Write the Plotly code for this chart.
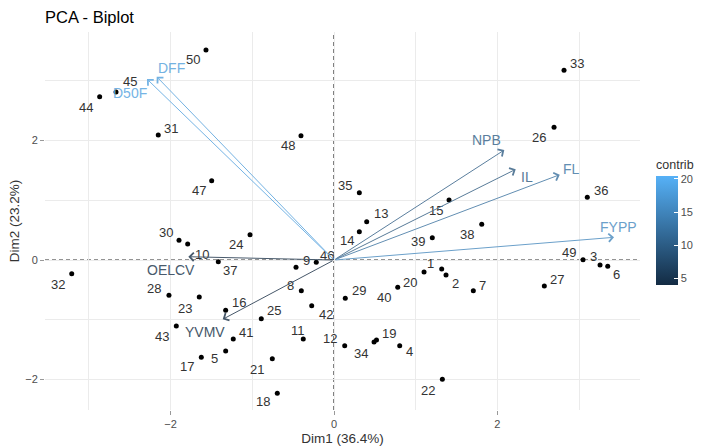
import plotly.graph_objects as go
from plotly.colors import sample_colorscale, unlabel_rgb

# ---- data ----
ind_labels = [str(i) for i in range(1, 51)]
dim1 = [1.318, 1.371, 3.256, 0.804, -1.326, 3.350, 1.705, -0.400, -0.465, -1.791,
        -0.376, 0.131, 0.400, 0.310, 1.408, -1.326, -1.624, -0.694, 0.520, 1.102,
        -0.755, 1.326, -1.649, -1.028, -0.890, 2.693, 2.574, -2.020, 0.138, -1.897,
        -2.151, -3.210, 2.815, 0.490, 0.310, 3.100, -1.416, 1.808, 1.203, 0.780,
        -1.233, -0.273, -1.930, -2.868, -2.668, -0.217, -1.497, -0.404, 3.048, -1.567]
dim2 = [-0.151, -0.251, -0.084, -1.434, -1.523, -0.105, -0.514, -0.514, -0.122, 0.268,
        -1.322, -1.434, 0.641, 0.474, 1.004, -0.842, -1.628, -2.231, -1.339, -0.201,
        -1.652, -1.997, -0.619, 0.423, -0.982, 2.221, -0.435, -0.591, -0.641, 0.330,
        2.092, -0.229, 3.175, -1.372, 1.126, 1.049, -0.028, 0.597, 0.373, -0.457,
        -1.322, -0.765, -1.105, 2.733, 2.812, -0.038, 1.327, 2.080, 0.005, 3.515]

var_names = ["DFF", "D50F", "NPB", "IL", "FL", "FYPP", "OELCV", "YVMV"]
var_dim1 = [-2.170, -2.289, 2.084, 2.224, 2.763, 3.427, -1.783, -1.362]
var_dim2 = [3.068, 3.029, 1.841, 1.518, 1.428, 0.380, 0.055, -0.992]
var_contrib = [19.9, 20.3, 10.8, 10.2, 13.6, 16.8, 4.5, 4.0]

x_ticks = [-2, 0, 2]
y_ticks = [-2, 0, 2]
cbar_ticks = [5, 10, 15, 20]

# ---- label placement (pixel offsets, dx right / dy down), styling only ----
ind_offsets = [(-11, -6), (9, 8), (-7, -9), (10, 6), (-11, 7), (9, 8), (9, -5), (-11, -5),
               (10, -7), (14, 10), (-5, -9), (-15, -7), (14, -8), (-12, 9), (-13, 10),
               (13, -8), (-14, 9), (-14, 8), (13, -7), (-14, 10), (-15, 11), (-14, 11),
               (-14, 11), (-14, 10), (13, -8), (-15, 10), (13, -7), (-15, -7), (14, -8),
               (-13, -8), (13, -7), (-14, 11), (13, -7), (-13, 11), (-14, -7), (14, -7),
               (12, 9), (-15, 10), (-14, 4), (-14, 10), (13, -7), (14, 9), (-14, 10),
               (-14, 11), (14, -10), (11, -7), (-13, 10), (-13, 10), (-14, -7), (-13, 10)]
var_offsets = [(15, -9), (-17, 14), (-18, -10), (11, 8), (12, -6), (4, -10), (-17, 13), (-18, 13)]

FONT = "Liberation Sans, Arial, sans-serif"
cmin, cmax = 3.95, 20.45
cscale = [[0, "#132B43"], [1, "#56B1F7"]]
raw_colors = sample_colorscale(cscale, [(c - cmin) / (cmax - cmin) for c in var_contrib])


def soften(col, k=0.3, g=192):
    r, gg, b = unlabel_rgb(col)
    return "rgb(%d,%d,%d)" % (r * (1 - k) + g * k, gg * (1 - k) + g * k, b * (1 - k) + g * k)


var_colors = [soften(c) for c in raw_colors]

fig = go.Figure()

# individuals
fig.add_trace(go.Scatter(x=dim1, y=dim2, mode="markers",
                         marker=dict(color="black", size=5),
                         hoverinfo="text", text=ind_labels, showlegend=False))

# invisible carrier for the colour bar
fig.add_trace(go.Scatter(
    x=var_dim1, y=var_dim2, mode="markers", showlegend=False, hoverinfo="skip",
    marker=dict(size=4, opacity=0, color=var_contrib, colorscale=cscale, cmin=cmin, cmax=cmax,
                showscale=True,
                colorbar=dict(
                    title=dict(text="contrib", side="top",
                               font=dict(size=12.5, color="#333333", family=FONT)),
                    thickness=22, len=128, lenmode="pixels",
                    x=1.027, xanchor="left", y=(410 - 285) / 378, yanchor="bottom",
                    xpad=0, ypad=0, outlinewidth=0,
                    tickvals=cbar_ticks, ticks="inside", ticklen=4, tickcolor="white",
                    tickfont=dict(size=11, color="#4d4d4d", family=FONT)))))

annotations = []
for i, lab in enumerate(ind_labels):
    dx, dy = ind_offsets[i]
    annotations.append(dict(x=dim1[i], y=dim2[i], xref="x", yref="y", text=lab,
                            showarrow=False, xshift=dx, yshift=-dy,
                            font=dict(size=13, color="#333333", family=FONT)))

for i, name in enumerate(var_names):
    annotations.append(dict(x=var_dim1[i], y=var_dim2[i], ax=0, ay=0,
                            xref="x", yref="y", axref="x", ayref="y",
                            text="", showarrow=True, arrowhead=4, arrowsize=1.6,
                            arrowwidth=1, arrowcolor=var_colors[i], standoff=0,
                            startstandoff=0))
    dx, dy = var_offsets[i]
    annotations.append(dict(x=var_dim1[i], y=var_dim2[i], xref="x", yref="y", text=name,
                            showarrow=False, xshift=dx, yshift=-dy,
                            font=dict(size=14, color=var_colors[i], family=FONT)))

shapes = [
    dict(type="line", xref="x", yref="paper", x0=0, x1=0, y0=0, y1=1,
         line=dict(color="black", width=1, dash="4px,3px"), layer="below"),
    dict(type="line", xref="paper", yref="y", x0=0, x1=1, y0=0, y1=0,
         line=dict(color="#222222", width=1, dash="4px,3px"), layer="below"),
]

axis_common = dict(showline=False, zeroline=False, showgrid=True, gridcolor="#ebebeb",
                   gridwidth=1, ticks="outside", ticklen=4, tickcolor="#999999",
                   automargin=False,
                   tickfont=dict(size=11, color="#4d4d4d", family=FONT),
                   minor=dict(dtick=1, showgrid=True, gridcolor="#ebebeb", gridwidth=1,
                              ticks=""))

fig.update_layout(
    width=710, height=448,
    margin=dict(l=45, r=70, t=32, b=38, autoexpand=False),
    paper_bgcolor="white", plot_bgcolor="white",
    title=dict(text="PCA - Biplot", x=0, xref="paper", xanchor="left",
               y=0.962, yref="container", yanchor="middle",
               font=dict(size=16.5, color="black", family=FONT)),
    xaxis=dict(range=[-3.537, 3.745], tickvals=x_ticks, tick0=0, dtick=2,
               title=dict(text="Dim1 (36.4%)", standoff=4,
                          font=dict(size=13.5, color="#333333", family=FONT)),
               **axis_common),
    yaxis=dict(range=[-2.51, 3.816], tickvals=y_ticks, tick0=0, dtick=2,
               title=dict(text="Dim2 (23.2%)", standoff=2,
                          font=dict(size=13.5, color="#333333", family=FONT)),
               **axis_common),
    annotations=annotations, shapes=shapes,
)

fig.write_html("out.html", config={"displayModeBar": False},
               post_script="document.body.style.margin='0';document.body.style.overflow='hidden';")
